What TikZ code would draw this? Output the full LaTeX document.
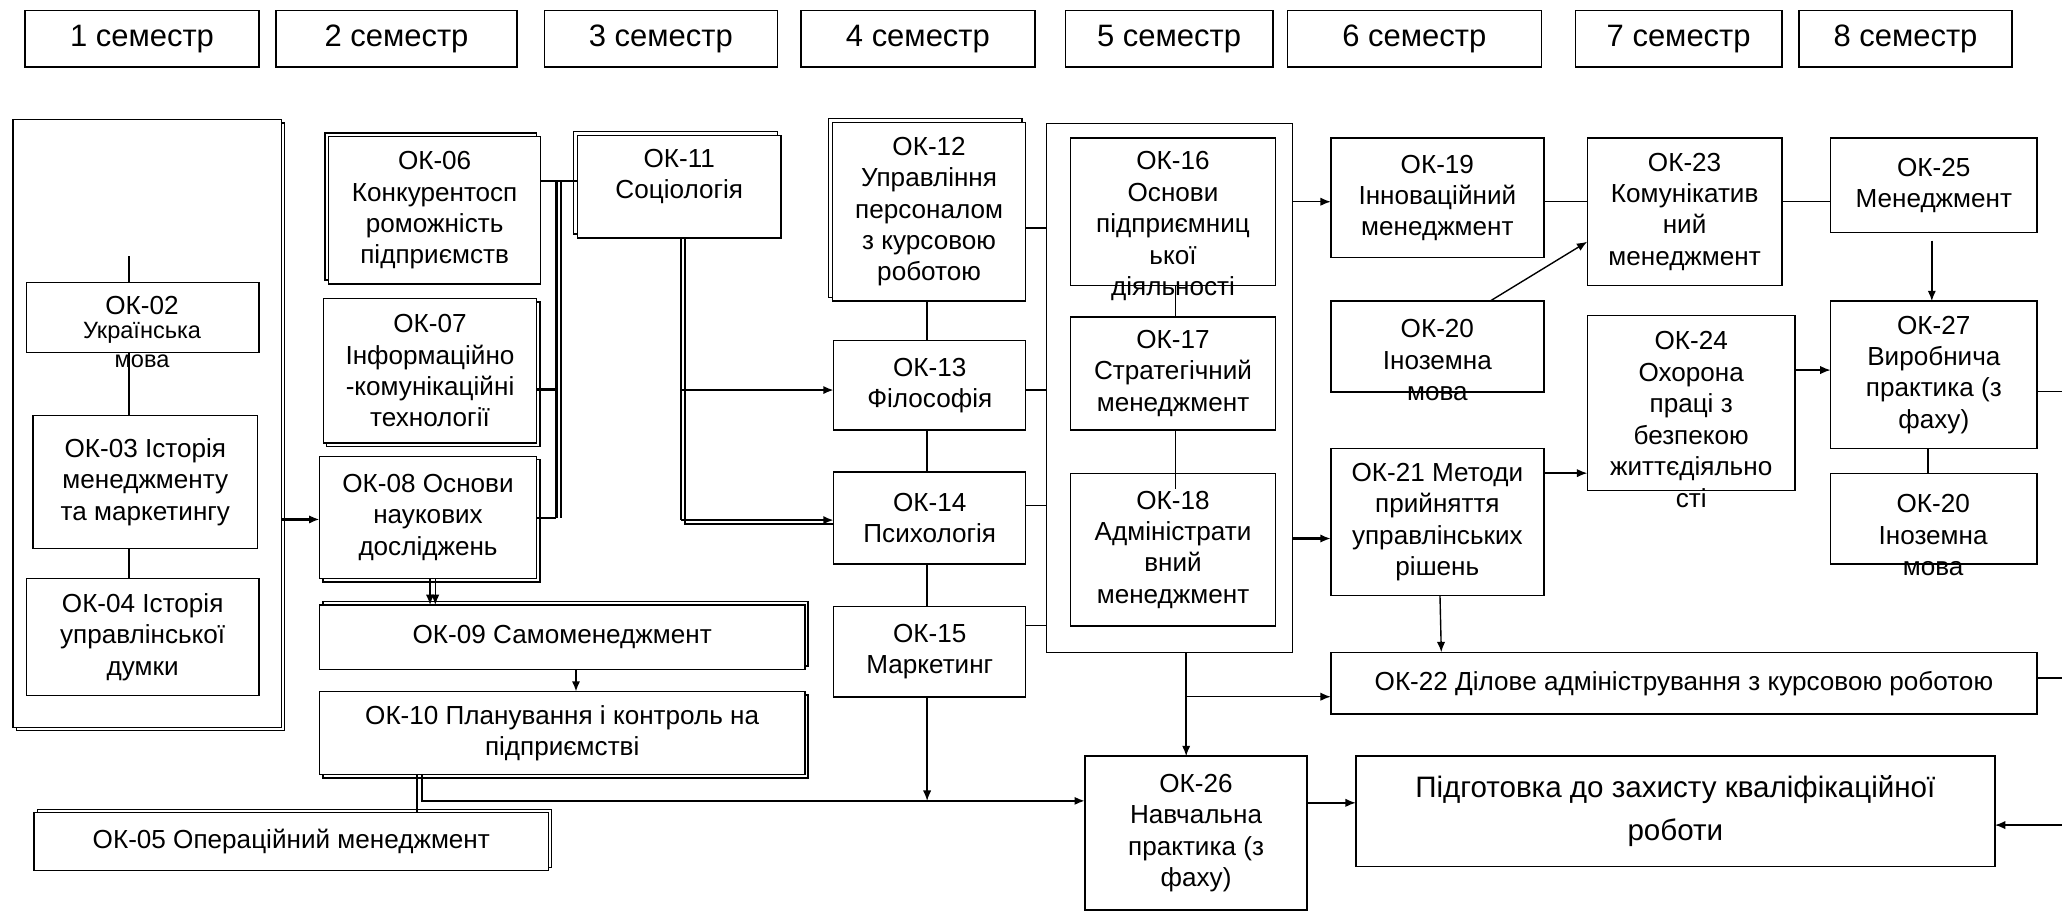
\documentclass[tikz,border=0pt]{standalone}
\usepackage{fontspec}
\setmainfont{Liberation Sans}
\usetikzlibrary{arrows.meta,shadows}
\newcommand\fs{\fontsize{11.3}{13.6}\selectfont}
\newcommand\fsm{\fontsize{10.2}{12}\selectfont}
\newcommand\fh{\fontsize{13.4}{16}\selectfont}
\newcommand\fb{\fontsize{12.8}{18.6}\selectfont}
\newcommand\bx[7]{\node[box,#6,minimum width={(#4-#2)*0.02cm},minimum height={(#5-#3)*0.02cm}] (#1) at ({(#2+#4)/2},{(#3+#5)/2}) {#7};}
\begin{document}
\begin{tikzpicture}[x=0.02cm,y=-0.02cm,
 box/.style={draw, line width=0.6pt, fill=white, inner sep=0pt, outer sep=0pt, align=center, font=\fs},
 hdr/.style={font=\fh},
 sUL/.style={copy shadow={shadow xshift=-0.06cm, shadow yshift=0.06cm}},
 sLR/.style={copy shadow={shadow xshift=0.05cm, shadow yshift=-0.05cm}},
 sUR/.style={copy shadow={shadow xshift=0.05cm, shadow yshift=0.05cm}},
 ln/.style={line width=0.6pt},
 tk/.style={line width=1.1pt},
 arr/.style={ln, -{Latex[length=4.5pt,width=3.6pt]}},
 tarr/.style={tk, -{Latex[length=4.5pt,width=3.6pt]}},
 txt/.style={inner sep=0pt, align=center, font=\fs}]
\path[fill=white, use as bounding box] (0,0) rectangle (1568,693);

% semester headers
\bx{h1}{19}{8}{197}{51}{hdr}{1 семестр}
\bx{h2}{210}{8}{393}{51}{hdr}{2 семестр}
\bx{h3}{414}{8}{591}{51}{hdr}{3 семестр}
\bx{h4}{609}{8}{787}{51}{hdr}{4 семестр}
\bx{h5}{810}{8}{968}{51}{hdr}{5 семестр}
\bx{h6}{979}{8}{1172}{51}{hdr}{6 семестр}
\bx{h7}{1198}{8}{1355}{51}{hdr}{7 семестр}
\bx{h8}{1368}{8}{1530}{51}{hdr}{8 семестр}

% semester 1
\bx{A}{10}{91}{214}{553}{sLR}{}
\coordinate (c02top) at (98,195);
\bx{ok02}{20}{215}{197}{268}{}{}
\node[txt] (t02a) at (108,232) {ОК-02};
\node[txt,font=\fsm] (t02b) at (108,253) {Українська};
\node[txt,font=\fsm] (t02c) at (108,275) {мова};
\bx{ok03}{25}{316}{196}{417}{}{ОК-03 Історія\\менеджменту\\та маркетингу}
\bx{ok04}{20}{440}{197}{529}{}{ОК-04 Історія\\управлінської\\думки}
\draw[ln] (c02top) -- (c02top |- ok02.north);
\draw[ln] (ok02.south -| c02top) -- (ok03.north -| c02top);
\draw[ln] (ok03.south -| c02top) -- (ok04.north -| c02top);

% semester 2
\bx{ok06}{250}{104}{411}{216}{sUL}{ОК-06\\Конкурентосп\\роможність\\підприємств}
\bx{ok07}{246}{227}{408}{337}{sLR}{ОК-07\\Інформаційно\\-комунікаційні\\технології}
\bx{ok08}{243}{347}{408}{440}{sLR}{ОК-08 Основи\\наукових\\досліджень}
\bx{ok09}{243}{460}{612}{509}{sUR}{ОК-09 Самоменеджмент}
\bx{ok10}{243}{526}{612}{589}{sLR}{ОК-10 Планування і контроль на\\підприємстві}
\bx{ok05}{26}{618}{417}{662}{sUR}{ОК-05 Операційний менеджмент}

% semester 3-4
\bx{ok11}{439}{103}{594}{181}{sUL}{}
\node[txt] (t11) at (516.5,134) {ОК-11\\Соціологія};
\bx{ok12}{633}{93}{780}{229}{sUL}{ОК-12\\Управління\\персоналом\\з курсовою\\роботою}
\bx{ok13}{634}{259}{780}{327}{}{ОК-13\\Філософія}
\bx{ok14}{634}{359}{780}{429}{}{ОК-14\\Психологія}
\bx{ok15}{634}{461}{780}{530}{}{ОК-15\\Маркетинг}

% semester 5
\bx{B}{796}{94}{983}{496}{}{}
\bx{ok16}{814}{105}{970}{217}{}{}
\node[txt] (t16) at (892,172) {ОК-16\\Основи\\підприємниц\\ької\\діяльності};
\bx{ok17}{814}{241}{970}{327}{}{ОК-17\\Стратегічний\\менеджмент}
\bx{ok18}{814}{360}{970}{476}{}{ОК-18\\Адміністрати\\вний\\менеджмент}
\bx{ok26}{825}{575}{994}{692}{}{ОК-26\\Навчальна\\практика (з\\фаху)}

% semester 6
\bx{ok19}{1012}{105}{1174}{196}{}{ОК-19\\Інноваційний\\менеджмент}
\bx{ok20}{1012}{229}{1174}{298}{}{}
\node[txt] (t20) at (1093,274) {ОК-20\\Іноземна\\мова};
\bx{ok21}{1012}{341}{1174}{453}{}{ОК-21 Методи\\прийняття\\управлінських\\рішень}
\bx{ok22}{1012}{496}{1549}{543}{}{ОК-22 Ділове адміністрування з курсовою роботою}
\bx{P}{1031}{575}{1517}{659}{font=\fb}{Підготовка до захисту кваліфікаційної\\роботи}

% semester 7-8
\bx{ok23}{1207}{105}{1355}{217}{}{ОК-23\\Комунікатив\\ний\\менеджмент}
\bx{ok24}{1207}{240}{1365}{373}{}{}
\node[txt] (t24) at (1286,319) {ОК-24\\Охорона\\праці з\\безпекою\\життєдіяльно\\сті};
\bx{ok25}{1392}{105}{1549}{177}{}{ОК-25\\Менеджмент}
\bx{ok27}{1392}{229}{1549}{341}{}{ОК-27\\Виробнича\\практика (з\\фаху)}
\bx{ok20b}{1392}{360}{1549}{429}{}{}
\node[txt] (t20b) at (1470,407) {ОК-20\\Іноземна\\мова};

% connectors semester 1-2
\draw[tarr] (A.east |- 0,395) -- (ok08.west |- 0,395);
\coordinate (busT) at (423,137.5);
\coordinate (busB) at (423,394);
\draw[tk] (ok06.east |- busT) -- (ok11.west |- busT);
\draw[tk] (ok07.east |- 0,296) -- (busT |- 0,296);
\draw[tk] (ok08.east |- busB) -- (busB);
\draw[tk] (busT) -- (busB);
\draw[ln] ([xshift=0.07cm]busT) -- ([xshift=0.07cm]busB);
\draw[arr] (ok08.south -| 327,0) -- (ok09.north -| 327,0);
\draw[arr] (ok08.south -| 331,0) -- (ok09.north -| 331,0);
\draw[tarr] (ok09.south -| 438,0) -- (ok10.north -| 438,0);
\draw[tk] (ok10.south -| 317,0) -- (ok05.north -| 317,0);
\draw[tarr] (ok10.south -| 321,0) -- (321,609) -- (ok26.west |- 0,609);

% semester 3-4
\coordinate (b11) at (518,395.5);
\draw[tk] (ok11.south -| b11) -- (b11);
\draw[ln] ([xshift=0.06cm]ok11.south -| b11) -- ([xshift=0.06cm,yshift=-0.06cm]b11) -- ([yshift=-0.06cm]ok14.west |- b11);
\draw[tarr] (ok11.south -| b11) |- (ok13.west |- 0,296.6);
\draw[tarr] (b11) -- (ok14.west |- b11);
\draw[ln] (ok12.south -| 705,0) -- (ok13.north -| 705,0);
\draw[ln] (ok13.south -| 705,0) -- (ok14.north -| 705,0);
\draw[ln] (ok14.south -| 705,0) -- (ok15.north -| 705,0);
\draw[arr] (ok15.south -| 705,0) -- (705,609);
\draw[ln] (ok12.east |- 0,173.5) -- (B.west |- 0,173.5);
\draw[ln] (ok13.east |- 0,296.6) -- (B.west |- 0,296.6);
\draw[ln] (ok14.east |- 0,384.5) -- (B.west |- 0,384.5);
\draw[ln] (ok15.east |- 0,475.8) -- (B.west |- 0,475.8);

% semester 5
\draw[ln] (ok16.south -| 894,0) -- (ok17.north -| 894,0);
\draw[ln] (ok17.south -| 894,0) -- (894,372);
\draw[arr] (B.east |- 0,153.4) -- (ok19.west |- 0,153.4);
\draw[tarr] (B.east |- 0,409.5) -- (ok21.west |- 0,409.5);
\coordinate (b26) at (902,529.8);
\draw[arr] (B.south -| b26) -- (ok26.north -| b26);
\draw[arr] (b26) -- (ok22.west |- b26);

% semester 6-8
\draw[ln] (ok19.east |- 0,153.4) -- (ok23.west |- 0,153.4);
\draw[arr] (ok20.north -| 1133,0) -- (ok23.west |- 0,183.8);
\draw[arr] (ok21.east |- 0,359.8) -- (ok24.west |- 0,359.8);
\draw[arr] (ok21.south -| 1095,0) -- (ok22.north -| 1096,0);
\draw[ln] (ok23.east |- 0,153.4) -- (ok25.west |- 0,153.4);
\draw[arr,shorten <=0.12cm] (ok25.south -| 1469,0) -- (ok27.north -| 1469,0);
\draw[arr] (ok24.east |- 0,281.4) -- (ok27.west |- 0,281.4);
\draw[ln] (ok27.south -| 1466,0) -- (ok20b.north -| 1466,0);
\coordinate (r27) at (1568,297.8);
\coordinate (r22) at (1568,515.6);
\coordinate (rP) at (1568,627.4);
\draw[ln] (ok27.east |- r27) -- (r27);
\draw[ln] (ok22.east |- r22) -- (r22);
\draw[arr] (rP) -- (P.east |- rP);
\draw[arr] (ok26.east |- 0,610.5) -- (P.west |- 0,610.5);
\end{tikzpicture}
\end{document}
